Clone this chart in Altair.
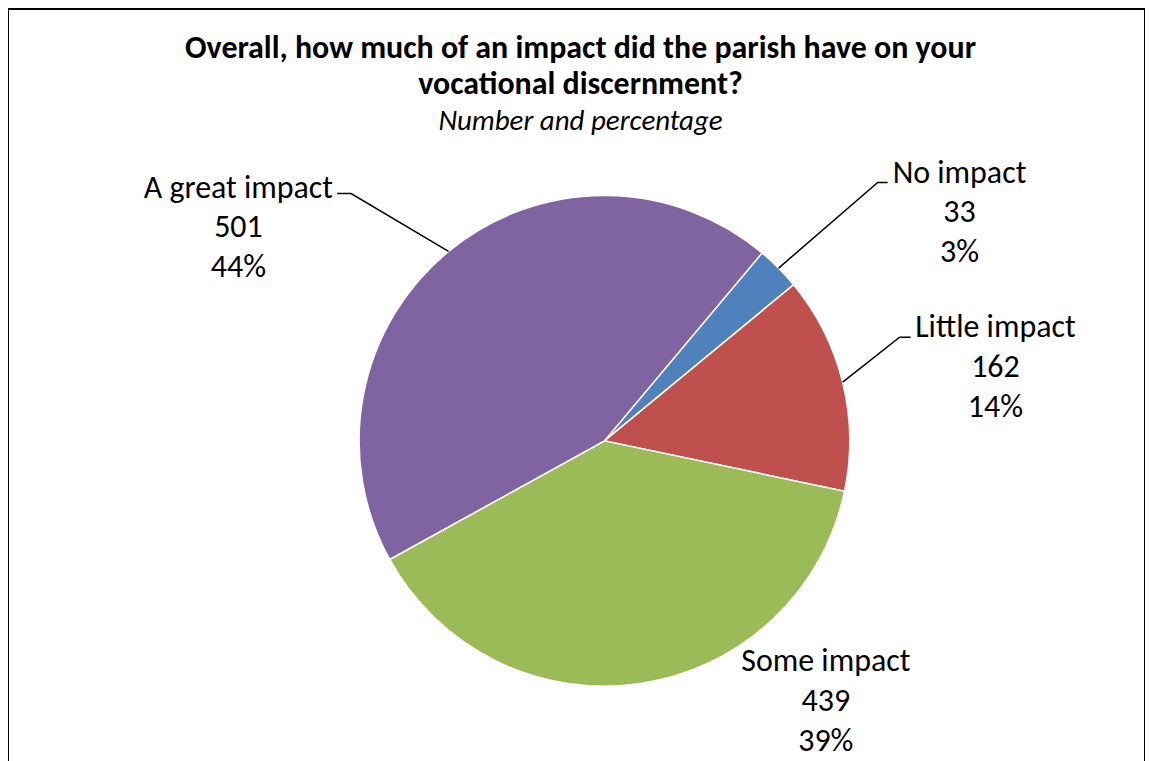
import math
import altair as alt
import pandas as pd

# ---- data ----
categories = ["No impact", "Little impact", "Some impact", "A great impact"]
counts = [33, 162, 439, 501]
percents = ["3%", "14%", "39%", "44%"]
colors = ["#4F81BD", "#C0504D", "#9BBB59", "#8064A2"]

title_lines = ["Overall, how much of an impact did the parish have on your",
               "vocational discernment?"]
subtitle = "Number and percentage"

# ---- layout ----
W, H = 1140, 770
CX, CY, R = 598, 433, 246
START_DEG = 40
FONT = "Calibri, Carlito, 'Open Sans', sans-serif"

total = sum(counts)
start = math.radians(START_DEG)

df = pd.DataFrame({"category": categories, "count": counts, "pct": percents,
                   "order": list(range(len(categories)))})
df["label"] = df["category"] + "\n" + df["count"].astype(str) + "\n" + df["pct"]

# first-line anchor of each label block
label_pos = {"No impact": (954, 164), "Little impact": (990, 319),
             "Some impact": (820, 654), "A great impact": (231, 179)}
elbows = {"No impact": [(882, 174), (872, 174)],
          "Little impact": [(905, 329), (894, 329)],
          "A great impact": [(330, 185), (344, 185)]}

df["lx"] = [label_pos[c][0] for c in categories]
df["ly"] = [label_pos[c][1] for c in categories]

# leader lines: from label elbow to the slice's outer edge at mid-angle
rows = []
cum = 0
for c, v in zip(categories, counts):
    mid = start + 2 * math.pi * (cum + v / 2) / total
    cum += v
    if c not in elbows:
        continue
    pts = elbows[c] + [(CX + R * math.sin(mid), CY - R * math.cos(mid))]
    for i, (px, py) in enumerate(pts):
        rows.append({"category": c, "i": i, "px": px, "py": py})
leaders = pd.DataFrame(rows)

titles = pd.DataFrame({
    "text": title_lines + [subtitle],
    "tx": [574, 574, 574],
    "ty": [39, 75, 112],
    "kind": ["t", "t", "s"],
})

pie = alt.Chart(df).mark_arc(outerRadius=R, stroke="white", strokeWidth=1.5).encode(
    theta=alt.Theta("count:Q", stack=True,
                    scale=alt.Scale(range=[start, start + 2 * math.pi])),
    color=alt.Color("category:N", scale=alt.Scale(domain=categories, range=colors),
                    legend=None),
    order=alt.Order("order:Q"),
    x=alt.value(CX), y=alt.value(CY),
)

lines = alt.Chart(leaders).mark_line(color="black", strokeWidth=1.5).encode(
    x=alt.X("px:Q", scale=None), y=alt.Y("py:Q", scale=None),
    detail="category:N", order="i:Q",
)

labels = alt.Chart(df).mark_text(
    align="center", baseline="middle", lineBreak="\n", lineHeight=40,
    fontSize=32, font=FONT, color="black",
).encode(x=alt.X("lx:Q", scale=None), y=alt.Y("ly:Q", scale=None), text="label:N")

title_main = alt.Chart(titles[titles.kind == "t"]).mark_text(
    align="center", baseline="middle", fontSize=32, fontWeight="bold", font=FONT,
    color="black",
).encode(x=alt.X("tx:Q", scale=None), y=alt.Y("ty:Q", scale=None), text="text:N")

title_sub = alt.Chart(titles[titles.kind == "s"]).mark_text(
    align="center", baseline="middle", fontSize=29, fontStyle="italic", font=FONT,
    color="black",
).encode(x=alt.X("tx:Q", scale=None), y=alt.Y("ty:Q", scale=None), text="text:N")

chart = alt.layer(pie, lines, labels, title_main, title_sub).properties(
    width=W, height=H, padding=0, autosize="none",
).configure_view(stroke="black", strokeWidth=2)

chart.save("out.html", embed_options={"renderer": "svg", "actions": False})
